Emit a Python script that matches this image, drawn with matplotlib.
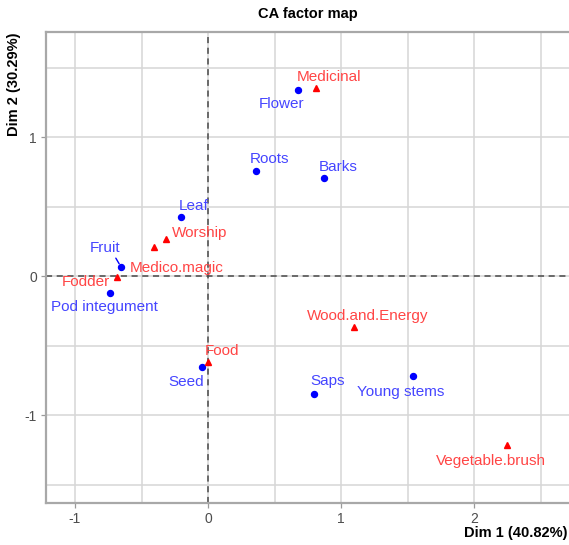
import numpy as np
import matplotlib
matplotlib.use("Agg")
import matplotlib.pyplot as plt

# ── Data: CA coordinates ──────────────────────────────────────────────────────

# rows (plant parts)
row_names = ["Flower", "Roots", "Barks", "Leaf", "Fruit", "Pod integument",
             "Seed", "Saps", "Young stems"]
row_dim1 = [0.674, 0.358, 0.870, -0.205, -0.652, -0.737, -0.048, 0.799, 1.539]
row_dim2 = [1.343, 0.760, 0.707, 0.426, 0.064, -0.119, -0.656, -0.846, -0.721]

# columns (uses)
col_names = ["Medicinal", "Worship", "Medico.magic", "Fodder",
             "Wood.and.Energy", "Food", "Vegetable.brush"]
col_dim1 = [0.812, -0.316, -0.404, -0.682, 1.098, 0.000, 2.246]
col_dim2 = [1.355, 0.268, 0.208, -0.004, -0.364, -0.616, -1.213]

dim1_pct = 40.82
dim2_pct = 30.29

# ── Label placement (offsets in pixels, repel-style) ──────────────────────────

PX = 0.72  # points per pixel at dpi=100
row_off = [(-16, -14.6), (14.3, 12), (14.6, 10.7), (12.6, 11), (-16.3, 19),
           (-6, -14.6), (-15, -15), (13.4, 12.7), (-12, -16)]
row_seg = [False, False, False, False, True, False, False, False, False]
col_off = [(13, 11.3), (34, 5.7), (22, -20.4), (-31.3, -5), (13.7, 11),
           (13.7, 11), (-16, -16.3)]

BLUE, RED = "#0000ff", "#ff0000"
BLUE_TXT, RED_TXT = "#4545ff", "#ff4545"

plt.rcParams["font.family"] = ["Liberation Sans", "DejaVu Sans"]
plt.rcParams["axes.unicode_minus"] = False

fig = plt.figure(figsize=(5.69, 5.45), dpi=100)
ax = fig.add_axes([46 / 569, 1 - 502.7 / 545, 1 - 46 / 569, (502.7 - 32.3) / 545])
ax.set_axisbelow(True)

ax.set_xlim(-1.218, 2.714)
ax.set_ylim(-1.631, 1.757)

# grid: integer and half steps, same light gray
ax.set_xticks([-1, 0, 1, 2])
ax.set_yticks([-1, 0, 1])
ax.set_xticks(np.arange(-1, 2.51, 0.5), minor=True)
ax.set_yticks(np.arange(-1.5, 1.51, 0.5), minor=True)
ax.grid(True, which="both", color="#d6d6d6", lw=1.1)
ax.tick_params(which="minor", length=0)
ax.tick_params(which="major", length=3.5, width=0.9, color="#9a9a9a",
               labelcolor="#4d4d4d", labelsize=10, pad=3)

for side in ["left", "bottom", "top"]:
    ax.spines[side].set_color("#a8a8a8")
    ax.spines[side].set_linewidth(1.6)
ax.spines["right"].set_visible(False)

ax.axhline(0, color="#4a4a4a", lw=1.1, ls=(0, (4, 3)), zorder=2)
ax.axvline(0, color="#4a4a4a", lw=1.1, ls=(0, (4, 3)), zorder=2)

# points
ax.plot(row_dim1, row_dim2, "o", color=BLUE, ms=4.3, zorder=3)
ax.plot(col_dim1, col_dim2, "^", color=RED, ms=4.5, zorder=3)

for name, x, y, (dx, dy), seg in zip(row_names, row_dim1, row_dim2, row_off, row_seg):
    arrow = None
    if seg:
        arrow = dict(arrowstyle="-", color=BLUE, lw=1.0, shrinkA=0, shrinkB=3,
                     relpos=(0.8, 0.0))
    ax.annotate(name, (x, y), xytext=(dx * PX, dy * PX), textcoords="offset points",
                ha="center", va="center", color=BLUE_TXT, fontsize=11, zorder=4,
                arrowprops=arrow)

for name, x, y, (dx, dy) in zip(col_names, col_dim1, col_dim2, col_off):
    ax.annotate(name, (x, y), xytext=(dx * PX, dy * PX), textcoords="offset points",
                ha="center", va="center", color=RED_TXT, fontsize=11, zorder=4)

fig.text(308 / 569, 1 - 14 / 545, "CA factor map", ha="center", va="center",
         fontsize=10.5, fontweight="bold")
fig.text(568 / 569, 1 - 533 / 545, f"Dim 1 ({dim1_pct:.2f}%)", ha="right",
         va="center", fontsize=10.5, fontweight="bold")
fig.text(14 / 569, 1 - 32 / 545, f"Dim 2 ({dim2_pct:.2f}%)", ha="center",
         va="top", rotation=90, fontsize=10.5, fontweight="bold")

fig.savefig("out.png", dpi=100)
